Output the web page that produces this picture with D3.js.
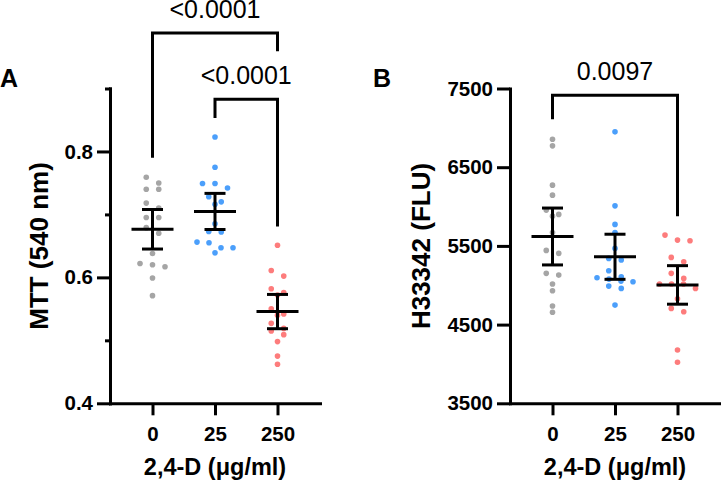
<!DOCTYPE html>
<html>
<head>
<meta charset="utf-8">
<title>2,4-D - MTT and H33342</title>
<script src="https://cdn.jsdelivr.net/npm/d3@7"></script>
<style>
	body { margin: 0; background: #fff; }
	text { font-family: "Liberation Sans", Arial, sans-serif; }
</style>
</head>
<body>
<div id="chart"></div>
<script>

	// doses and colours
	var doses = ["0", "25", "250"];
	var doseColors = ["#a5a5a5", "#4b9ffb", "#fd7c7c"];
	var xTitle = "2,4-D (\u03bcg/ml)";

	// panel A - MTT (540 nm), one value per well
	var mtt0   = [0.759, 0.750, 0.740, 0.740, 0.718, 0.710, 0.695, 0.695, 0.679, 0.670, 0.638, 0.622, 0.620, 0.617, 0.599, 0.571];
	var mtt25  = [0.823, 0.775, 0.749, 0.749, 0.742, 0.728, 0.720, 0.716, 0.685, 0.673, 0.672, 0.656, 0.655, 0.647, 0.647, 0.639];
	var mtt250 = [0.651, 0.611, 0.602, 0.582, 0.576, 0.572, 0.550, 0.542, 0.540, 0.527, 0.519, 0.515, 0.509, 0.498, 0.475, 0.462];
	var mttDomain = [0.4, 0.9];
	var mttTicks = [0.4, 0.6, 0.8];
	var mttMinorTicks = [0.5, 0.7, 0.9];
	var mttPvalues = ["<0.0001", "<0.0001"];

	// panel B - H33342 (FLU)
	var hoe0   = [6856, 6771, 6272, 6145, 5955, 5900, 5878, 5671, 5443, 5405, 5151, 5129, 5015, 4930, 4736, 4656];
	var hoe25  = [6949, 6009, 5773, 5671, 5468, 5341, 5320, 5184, 5108, 5095, 5078, 5053, 5044, 4989, 4960, 4748];
	var hoe250 = [5637, 5574, 5565, 5354, 5298, 5151, 5087, 5015, 5015, 5015, 4960, 4828, 4706, 4663, 4177, 4021];
	var hoeDomain = [3500, 7500];
	var hoeTicks = [3500, 4500, 5500, 6500, 7500];
	var hoePvalues = ["0.0097"];

	var W = 721, H = 481;
	var yBottom = 403.3, yTop = 88.5;

	var panels = [
		{ letter: "A", letterX: 0, left: 110, right: 320, title: "MTT (540 nm)", titleX: 48,
		  groups: [mtt0, mtt25, mtt250], domain: mttDomain, ticks: mttTicks, minor: mttMinorTicks,
		  fmt: d3.format(".1f"),
		  brackets: [
			{ a: 0, b: 2, top: 0.988, legA: 0.790, legB: 0.959, label: mttPvalues[0] },
			{ a: 1, b: 2, top: 0.883, legA: 0.853, legB: 0.681, label: mttPvalues[1] }
		  ] },
		{ letter: "B", letterX: 373, left: 510, right: 720, title: "H33342 (FLU)", titleX: 430,
		  groups: [hoe0, hoe25, hoe250], domain: hoeDomain, ticks: hoeTicks, minor: [],
		  fmt: d3.format("d"),
		  brackets: [
			{ a: 0, b: 2, top: 7415, legA: 7110, legB: 5878, label: hoePvalues[0] }
		  ] }
	];

	var svg = d3.select("#chart").append("svg")
		.attr("width", W)
		.attr("height", H);

	// t quantile for 95% CI, df = n - 1
	var tTable = { 15: 2.131, 14: 2.145, 16: 2.120 };

	function ci95(vals) {
		var n = vals.length;
		var m = d3.mean(vals);
		var half = (tTable[n - 1] || 2.1) * d3.deviation(vals) / Math.sqrt(n);
		return { mean: m, lo: m - half, hi: m + half };
	}

	// rows of near-equal values are spread out side by side
	function swarm(vals, y, cx) {
		var pts = vals.map(function(v) { return { v: v, y: y(v) }; })
			.sort(function(a, b) { return a.y - b.y; });
		var rows = [], row = null;
		pts.forEach(function(p) {
			if (row && p.y - row[0].y < 6) row.push(p);
			else { row = [p]; rows.push(row); }
		});
		rows.forEach(function(r) {
			var n = r.length;
			var sp = n > 1 ? Math.min(12.5, 36 / (n - 1)) : 0;
			r.forEach(function(p, i) { p.x = cx + (i - (n - 1) / 2) * sp; });
		});
		return pts;
	}

	function styleAxis(g, size) {
		g.attr("font-family", null).attr("font-size", null);
		g.selectAll(".domain").attr("stroke", "#000").attr("stroke-width", 3).attr("stroke-linecap", "square");
		g.selectAll(".tick line").attr("stroke", "#000").attr("stroke-width", 3);
		g.selectAll(".tick text")
			.attr("fill", "#000")
			.attr("font-size", size)
			.attr("font-weight", "bold");
	}

	panels.forEach(function(p) {
		var x = d3.scalePoint().domain(doses).range([p.left, p.right]).padding(0.68);
		var y = d3.scaleLinear().domain(p.domain).range([yBottom, yTop]);

		// minor ticks first, then the labelled axis
		if (p.minor.length) {
			svg.append("g")
				.attr("transform", "translate(" + p.left + ",0)")
				.call(d3.axisLeft(y).tickValues(p.minor).tickSize(5).tickSizeOuter(0).tickFormat(""))
				.call(styleAxis, "20px");
		}
		svg.append("g")
			.attr("transform", "translate(" + p.left + ",0)")
			.call(d3.axisLeft(y).tickValues(p.ticks).tickSize(13).tickSizeOuter(0).tickPadding(4).tickFormat(p.fmt))
			.call(styleAxis, "20.5px");

		svg.append("g")
			.attr("transform", "translate(0," + yBottom + ")")
			.call(d3.axisBottom(x).tickSize(12).tickSizeOuter(0).tickPadding(11))
			.call(styleAxis, "20.5px");

		// points
		p.groups.forEach(function(vals, gi) {
			var cx = x(doses[gi]);
			svg.append("g").selectAll("circle")
				.data(swarm(vals, y, cx))
				.enter()
				.append("circle")
				.attr("cx", function(d) { return d.x; })
				.attr("cy", function(d) { return d.y; })
				.attr("r", 2.8)
				.attr("fill", doseColors[gi]);
		});

		// mean with 95% CI
		p.groups.forEach(function(vals, gi) {
			var cx = x(doses[gi]);
			var s = ci95(vals);
			var eb = svg.append("g").attr("stroke", "#000").attr("stroke-width", 3);
			eb.append("line").attr("x1", cx).attr("x2", cx).attr("y1", y(s.lo)).attr("y2", y(s.hi));
			eb.append("line").attr("x1", cx - 10.5).attr("x2", cx + 10.5).attr("y1", y(s.lo)).attr("y2", y(s.lo));
			eb.append("line").attr("x1", cx - 10.5).attr("x2", cx + 10.5).attr("y1", y(s.hi)).attr("y2", y(s.hi));
			eb.append("line").attr("x1", cx - 21).attr("x2", cx + 21).attr("y1", y(s.mean)).attr("y2", y(s.mean));
		});

		// significance brackets
		p.brackets.forEach(function(b) {
			var xa = x(doses[b.a]), xb = x(doses[b.b]);
			svg.append("path")
				.attr("d", "M" + xa + "," + y(b.legA) + "V" + y(b.top) + "H" + xb + "V" + y(b.legB))
				.attr("fill", "none")
				.attr("stroke", "#000")
				.attr("stroke-width", 3);
			svg.append("text")
				.attr("x", (xa + xb) / 2)
				.attr("y", y(b.top) - 15)
				.attr("text-anchor", "middle")
				.attr("font-size", "25px")
				.text(b.label);
		});

		// titles
		svg.append("text")
			.attr("x", (p.left + p.right) / 2)
			.attr("y", 475)
			.attr("text-anchor", "middle")
			.attr("font-size", "23.5px")
			.attr("font-weight", "bold")
			.text(xTitle);

		svg.append("text")
			.attr("transform", "translate(" + p.titleX + "," + 246 + ") rotate(-90)")
			.attr("text-anchor", "middle")
			.attr("font-size", "26px")
			.attr("font-weight", "bold")
			.text(p.title);

		svg.append("text")
			.attr("x", p.letterX)
			.attr("y", 87)
			.attr("font-size", "25px")
			.attr("font-weight", "bold")
			.text(p.letter);
	});

</script>
</body>
</html>
